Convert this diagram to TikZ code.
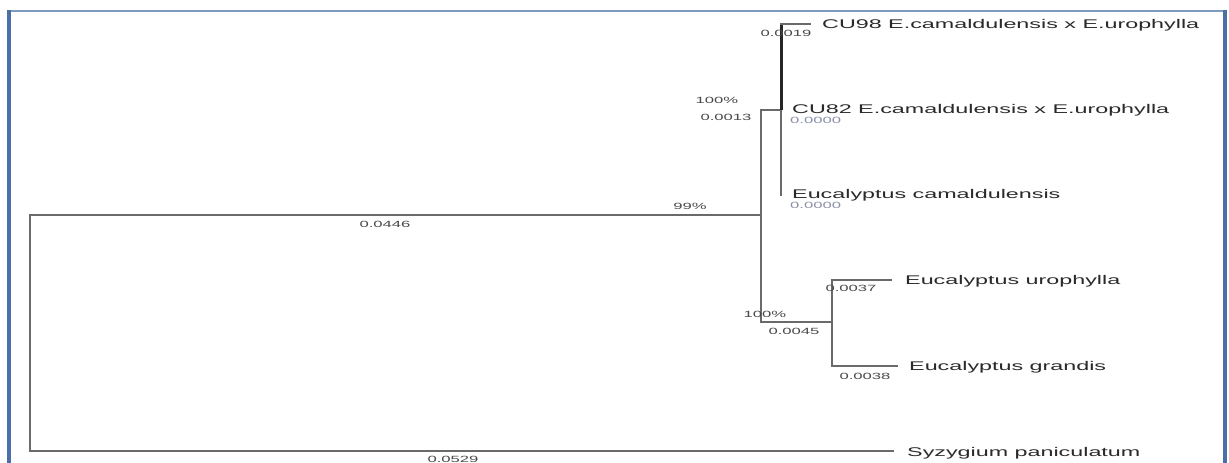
\documentclass[tikz,border=0pt]{standalone}
\usepackage{fontspec}
\newfontfamily\lab[FakeStretch=1.85]{Liberation Sans}
\definecolor{framec}{HTML}{4A70A6}
\definecolor{framet}{HTML}{7E9CC2}
\definecolor{brc}{HTML}{6A6A6A}
\definecolor{txtc}{HTML}{2A2A2A}
\definecolor{numc}{HTML}{4A4A4A}
\definecolor{zeroc}{HTML}{8C90A8}
\tikzset{
  br/.style={draw=brc, line width=2.2pt, line cap=rect},
  heavy/.style={draw=black!85, line width=3pt},
  leaf/.style={anchor=base west, inner sep=0pt, text=txtc, font=\lab\fontsize{12.6}{14}\selectfont},
  num/.style={anchor=base, inner sep=0pt, text=numc, font=\lab\fontsize{9}{10}\selectfont},
  zero/.style={anchor=base west, inner sep=0pt, text=zeroc, font=\lab\fontsize{9}{10}\selectfont},
}
\begin{document}
\begin{tikzpicture}[x=1pt, y=-1pt]
\useasboundingbox (0,0) rectangle (1229,463);
\clip (0,0) rectangle (1229,463);
\fill[white] (0,0) rectangle (1229,463);
% frame
\draw[framet, line width=2pt] (9,11) -- (1225,11);
\draw[framec, line width=4pt] (9,10) -- (9,470);
\draw[framec, line width=4pt] (1225,10) -- (1225,470);

% internal nodes
\coordinate (rt) at (30,215);
\coordinate (rb) at (30,451);
\coordinate (a)  at (761,215);
\coordinate (at) at (761,110);
\coordinate (ab) at (761,322);
\coordinate (b)  at (781,110);
\coordinate (bt) at (781,24);
\coordinate (bb) at (781,195);
\coordinate (c)  at (832,322);
\coordinate (ct) at (832,280);
\coordinate (cb) at (832,366);
% branch tips
\coordinate (t98) at (810,24);
\coordinate (tur) at (891,280);
\coordinate (tgr) at (897,366);
\coordinate (tsy) at (893,451);

% leaf labels
\node[leaf] (cu98) at (822,28.5) {CU98 E.camaldulensis x E.urophylla};
\node[leaf] (cu82) at (792,113.5) {CU82 E.camaldulensis x E.urophylla};
\node[leaf] (ecam) at (792,198.5) {Eucalyptus camaldulensis};
\node[leaf] (euro) at (905,284.5) {Eucalyptus urophylla};
\node[leaf] (egra) at (909,370) {Eucalyptus grandis};
\node[leaf] (syz)  at (907,456) {Syzygium paniculatum};

% branches
\draw[br] (a) -- (rt) -- (rb) -- (tsy);
\draw[br] (at) -- (ab);
\draw[br] (at) -- (b);
\draw[br] (b) -- (bb);
\draw[heavy] (bt) -- (b);
\draw[br] (bt) -- (t98);
\draw[br] (ab) -- (c);
\draw[br] (ct) -- (cb);
\draw[br] (ct) -- (tur);
\draw[br] (cb) -- (tgr);

% branch lengths and support values
\node[num] (l19) at (786,36) {0.0019};
\node[num] (s1)  at (717,103) {100\%};
\node[num] (l13) at (726,120.5) {0.0013};
\node[zero] (z1) at (790,123.6) {0.0000};
\node[zero] (z2) at (790,208.4) {0.0000};
\node[num] (s2)  at (690,209) {99\%};
\node[num] (l446) at (385,227.5) {0.0446};
\node[num] (l37) at (851,291.5) {0.0037};
\node[num] (s3)  at (765,317.3) {100\%};
\node[num] (l45) at (794,334.3) {0.0045};
\node[num] (l38) at (865,379.5) {0.0038};
\node[num] (l529) at (453,462) {0.0529};
\end{tikzpicture}
\end{document}
